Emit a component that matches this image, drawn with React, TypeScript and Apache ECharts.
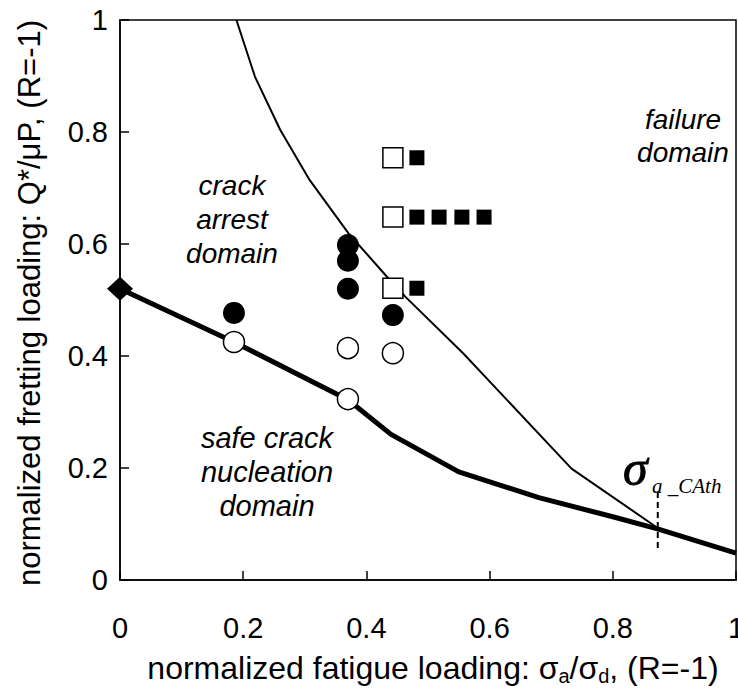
import React, { useEffect, useRef } from 'react';
import * as echarts from 'echarts';

// Thick line: safe crack nucleation boundary
const safeX = [0, 0.185, 0.37, 0.44, 0.55, 0.68, 0.8, 0.874, 1];
const safeY = [0.52, 0.425, 0.322, 0.26, 0.193, 0.147, 0.113, 0.091, 0.048];

// Thin line: failure boundary
const failX = [0.189, 0.219, 0.26, 0.308, 0.371, 0.433, 0.463, 0.557, 0.733, 0.874];
const failY = [1.0, 0.899, 0.804, 0.714, 0.619, 0.542, 0.506, 0.405, 0.199, 0.092];

const diamondPts = [[0, 0.52]];
const openCircles = [[0.185, 0.425], [0.37, 0.414], [0.37, 0.323], [0.443, 0.405]];
const filledCircles = [[0.185, 0.477], [0.37, 0.598], [0.37, 0.570], [0.37, 0.520], [0.443, 0.473]];
const openSquares = [[0.443, 0.754], [0.443, 0.648], [0.443, 0.521]];
const filledSquares = [[0.482, 0.754], [0.482, 0.648], [0.518, 0.648], [0.555, 0.648], [0.591, 0.648], [0.482, 0.521]];

const thresholdX = 0.873;
const thresholdY = [0.157, 0.052];

const SANS = 'Liberation Sans, Arial, sans-serif';
const SERIF = 'Liberation Serif, Times New Roman, serif';

export default function App() {
  const ref = useRef<HTMLDivElement>(null);
  useEffect(() => {
    document.body.style.margin = '0';
    const chart = echarts.init(ref.current!, null, { renderer: 'svg' });
    const zip = (xs: number[], ys: number[]) => xs.map((x, i) => [x, ys[i]]);
    chart.setOption({
      animation: false,
      grid: {
        left: 120, top: 20, right: 2, bottom: 112,
        outerBoundsMode: 'none', containLabel: false,
        show: true, borderColor: '#000', borderWidth: 1.5, backgroundColor: 'transparent',
      },
      xAxis: {
        type: 'value', min: 0, max: 1, interval: 0.2,
        axisLine: { show: true, lineStyle: { color: '#000', width: 1.5 } },
        axisTick: { show: true, inside: true, length: 9, lineStyle: { color: '#000', width: 1.5 } },
        axisLabel: { color: '#000', fontSize: 29, fontFamily: SANS, margin: 33 },
        splitLine: { show: false },
      },
      yAxis: {
        type: 'value', min: 0, max: 1, interval: 0.2,
        axisLine: { show: true, lineStyle: { color: '#000', width: 1.5 } },
        axisTick: { show: true, inside: true, length: 9, lineStyle: { color: '#000', width: 1.5 } },
        axisLabel: { color: '#000', fontSize: 29, fontFamily: SANS, margin: 12 },
        splitLine: { show: false },
      },
      graphic: [
        {
          type: 'text', x: 29, y: 303, rotation: Math.PI / 2,
          style: { text: 'normalized fretting loading: Q*/μP, (R=-1)', fontSize: 31, fontFamily: SANS, fill: '#000', align: 'center', verticalAlign: 'middle' },
        },
        {
          type: 'text', x: 433, y: 668,
          style: {
            text: '{n|normalized fatigue loading: σ}{s|a}{n|/σ}{s|d}{n|, (R=-1)}',
            align: 'center', verticalAlign: 'middle', fill: '#000',
            rich: {
              n: { fontSize: 32, fontFamily: SANS, lineHeight: 36, fill: '#000' },
              s: { fontSize: 20, fontFamily: SANS, lineHeight: 12, verticalAlign: 'bottom', fill: '#000' },
            },
          },
        },
        {
          type: 'text', x: 683, y: 136,
          style: { text: 'failure\ndomain', fontSize: 28, fontStyle: 'italic', fontFamily: SANS, lineHeight: 33, fill: '#000', align: 'center', verticalAlign: 'middle' },
        },
        {
          type: 'text', x: 232, y: 219,
          style: { text: 'crack\narrest\ndomain', fontSize: 28, fontStyle: 'italic', fontFamily: SANS, lineHeight: 34, fill: '#000', align: 'center', verticalAlign: 'middle' },
        },
        {
          type: 'text', x: 267, y: 472,
          style: { text: 'safe crack\nnucleation\ndomain', fontSize: 29, fontStyle: 'italic', fontFamily: SANS, lineHeight: 34, fill: '#000', align: 'center', verticalAlign: 'middle' },
        },
        {
          type: 'text', x: 623, y: 468,
          style: { text: 'σ', fontSize: 50, fontStyle: 'italic', fontFamily: SERIF, fill: '#000', stroke: '#000', lineWidth: 0.8, align: 'left', verticalAlign: 'middle' },
        },
        {
          type: 'text', x: 652, y: 486,
          style: { text: 'a _CAth', fontSize: 21, fontStyle: 'italic', fontFamily: SERIF, fill: '#000', align: 'left', verticalAlign: 'middle' },
        },
      ],
      series: [
        {
          type: 'line', data: zip(safeX, safeY), symbol: 'none', clip: false,
          lineStyle: { color: '#000', width: 5, join: 'round' }, z: 2,
        },
        {
          type: 'line', data: zip(failX, failY), symbol: 'none',
          lineStyle: { color: '#000', width: 2 }, z: 2,
        },
        {
          type: 'line', data: thresholdY.map((y) => [thresholdX, y]), symbol: 'none',
          lineStyle: { color: '#000', width: 2, type: [6, 4] }, z: 2,
        },
        {
          type: 'scatter', data: diamondPts, symbol: 'diamond', symbolSize: [26, 24], clip: false,
          itemStyle: { color: '#000', opacity: 1 }, z: 3,
        },
        {
          type: 'scatter', data: openCircles, symbol: 'circle', symbolSize: 21,
          itemStyle: { color: '#fff', borderColor: '#000', borderWidth: 1.5, opacity: 1 }, z: 3,
        },
        {
          type: 'scatter', data: filledCircles, symbol: 'circle', symbolSize: 22,
          itemStyle: { color: '#000', opacity: 1 }, z: 3,
        },
        {
          type: 'scatter', data: openSquares, symbol: 'rect', symbolSize: 20,
          itemStyle: { color: '#fff', borderColor: '#000', borderWidth: 1.5, opacity: 1 }, z: 3,
        },
        {
          type: 'scatter', data: filledSquares, symbol: 'rect', symbolSize: 15,
          itemStyle: { color: '#000', opacity: 1 }, z: 3,
        },
      ],
    });
    return () => chart.dispose();
  }, []);
  return <div ref={ref} style={{ width: 738, height: 692, position: 'absolute', left: 0, top: 0, overflow: 'hidden' }} />;
}
